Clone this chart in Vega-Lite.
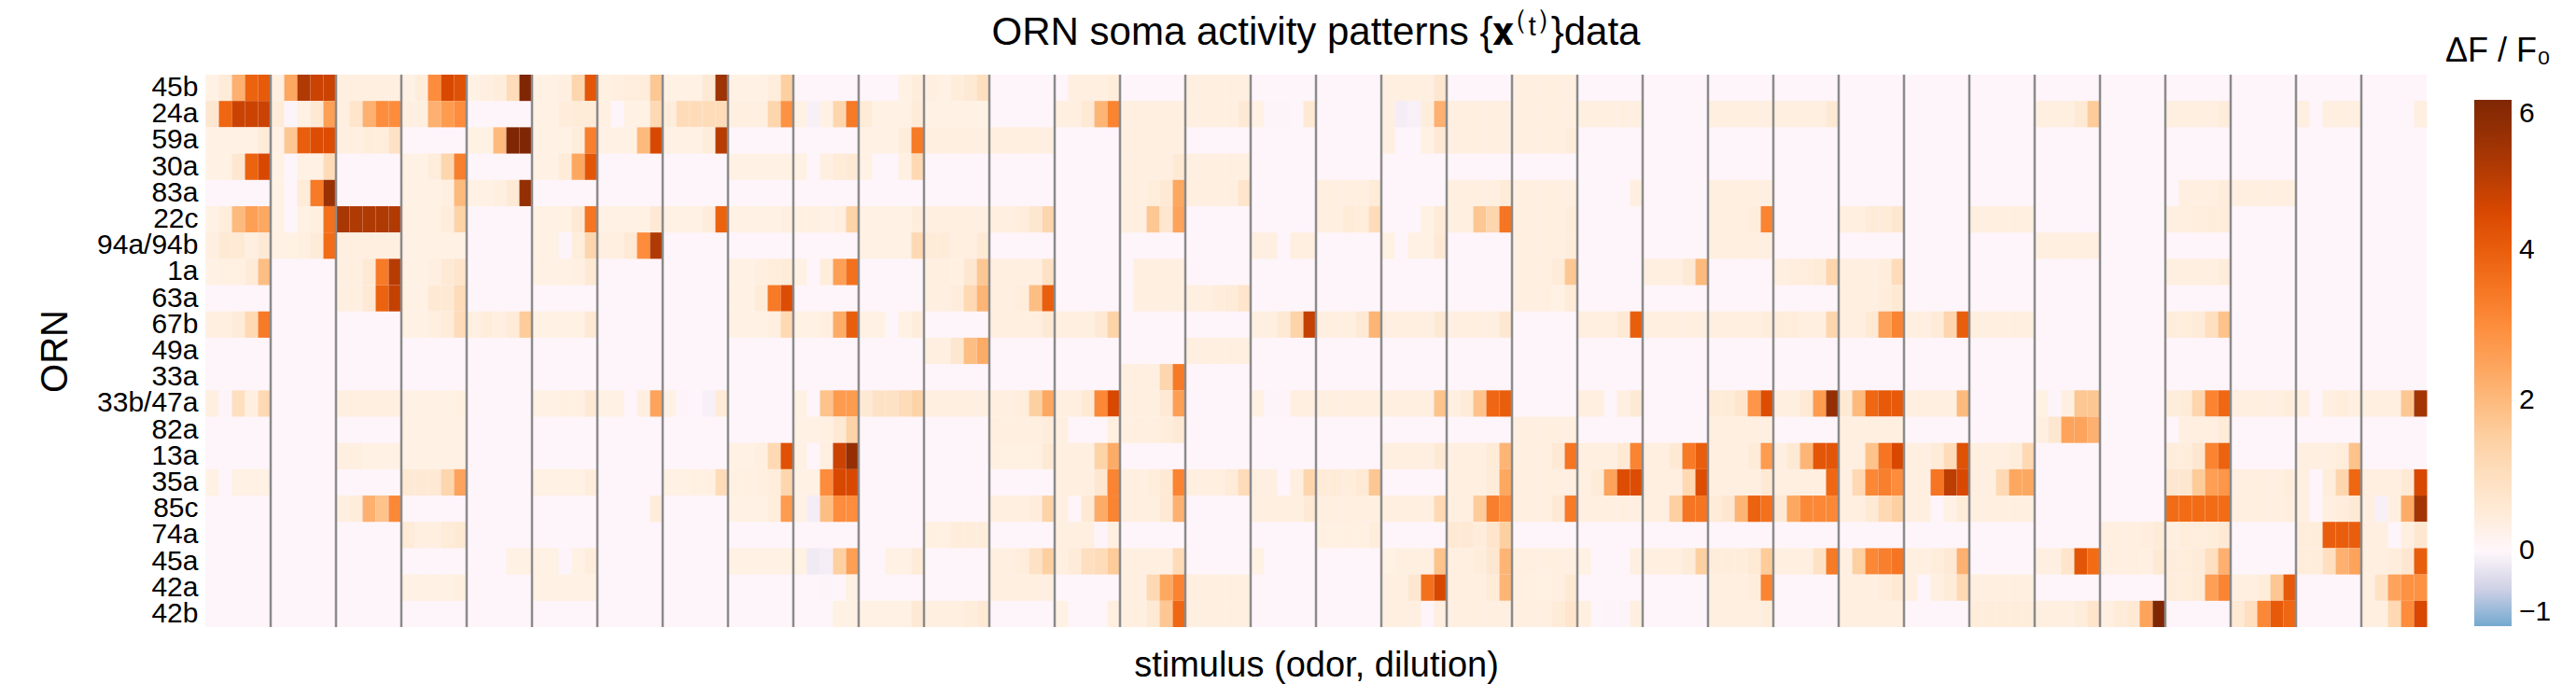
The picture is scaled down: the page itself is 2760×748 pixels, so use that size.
{
  "$schema": "https://vega.github.io/schema/vega-lite/v6.json",
  "description": "ORN soma activity patterns, heatmap of dF/F0 per ORN and stimulus (34 odors x 5 dilutions)",
  "width": 2380,
  "height": 592,
  "autosize": "none",
  "padding": {"left": 220, "top": 80, "right": 160, "bottom": 76},
  "title": {
    "text": "ORN soma activity patterns {𝐱⁽ᵗ⁾}data",
    "frame": "group",
    "anchor": "middle",
    "fontSize": 42,
    "fontWeight": "normal",
    "color": "#000000",
    "offset": -19
  },
  "config": {
    "font": "Liberation Sans",
    "view": {"fill": "#fef5fa", "stroke": null}
  },
  "layer": [
    {
      "data": {
        "values": [
          {"c":0,"r":"45b","v":0.2},{"c":1,"r":"45b","v":0.5},{"c":2,"r":"45b","v":2.2},{"c":3,"r":"45b","v":3.9},{"c":4,"r":"45b","v":4.1},
          {"c":0,"r":"24a","v":0.7},{"c":1,"r":"24a","v":3.8},{"c":2,"r":"24a","v":4.7},{"c":3,"r":"24a","v":4.7},{"c":4,"r":"24a","v":4.7},
          {"c":0,"r":"59a","v":0.2},{"c":1,"r":"59a","v":0.2},{"c":2,"r":"59a","v":0.2},{"c":3,"r":"59a","v":0.2},{"c":4,"r":"59a","v":0.5},
          {"c":0,"r":"30a","v":0.2},{"c":1,"r":"30a","v":0.2},{"c":2,"r":"30a","v":0.7},{"c":3,"r":"30a","v":3.9},{"c":4,"r":"30a","v":4.5},
          {"c":0,"r":"22c","v":0.2},{"c":1,"r":"22c","v":0.4},{"c":2,"r":"22c","v":2.0},{"c":3,"r":"22c","v":2.6},{"c":4,"r":"22c","v":2.4},
          {"c":0,"r":"94a/94b","v":0.3},{"c":1,"r":"94a/94b","v":0.6},{"c":2,"r":"94a/94b","v":0.6},{"c":3,"r":"94a/94b","v":0.3},{"c":4,"r":"94a/94b","v":0.6},
          {"c":0,"r":"1a","v":0.2},{"c":1,"r":"1a","v":0.25},{"c":2,"r":"1a","v":0.25},{"c":3,"r":"1a","v":0.5},{"c":4,"r":"1a","v":1.9},
          {"c":0,"r":"67b","v":0.3},{"c":1,"r":"67b","v":0.3},{"c":2,"r":"67b","v":0.5},{"c":3,"r":"67b","v":1.2},{"c":4,"r":"67b","v":3.4},
          {"c":0,"r":"33b/47a","v":0.3},{"c":1,"r":"33b/47a","v":-0.05},{"c":2,"r":"33b/47a","v":1.0},{"c":3,"r":"33b/47a","v":0.3},{"c":4,"r":"33b/47a","v":1.2},
          {"c":0,"r":"35a","v":0.2},{"c":2,"r":"35a","v":0.2},{"c":3,"r":"35a","v":0.2},{"c":4,"r":"35a","v":0.2},

          {"c":5,"r":"45b","v":0.3},{"c":6,"r":"45b","v":2.4},{"c":7,"r":"45b","v":5.1},{"c":8,"r":"45b","v":4.7},{"c":9,"r":"45b","v":4.7},
          {"c":5,"r":"24a","v":0.5},{"c":6,"r":"24a","v":-0.05},{"c":7,"r":"24a","v":0.2},{"c":8,"r":"24a","v":0.6},{"c":9,"r":"24a","v":2.6},
          {"c":5,"r":"59a","v":0.2},{"c":6,"r":"59a","v":1.7},{"c":7,"r":"59a","v":4.0},{"c":8,"r":"59a","v":4.4},{"c":9,"r":"59a","v":4.4},
          {"c":5,"r":"30a","v":0.2},{"c":7,"r":"30a","v":0.2},{"c":8,"r":"30a","v":0.2},{"c":9,"r":"30a","v":1.1},
          {"c":5,"r":"83a","v":0.2},{"c":7,"r":"83a","v":0.5},{"c":8,"r":"83a","v":3.4},{"c":9,"r":"83a","v":5.5},
          {"c":5,"r":"22c","v":0.2},{"c":7,"r":"22c","v":0.2},{"c":8,"r":"22c","v":0.3},{"c":9,"r":"22c","v":3.6},
          {"c":5,"r":"94a/94b","v":0.2},{"c":6,"r":"94a/94b","v":0.2},{"c":7,"r":"94a/94b","v":0.3},{"c":8,"r":"94a/94b","v":0.5},{"c":9,"r":"94a/94b","v":3.7},

          {"c":10,"r":"45b","v":0.3},{"c":11,"r":"45b","v":0.3},{"c":12,"r":"45b","v":0.3},{"c":13,"r":"45b","v":0.3},{"c":14,"r":"45b","v":0.3},
          {"c":10,"r":"24a","v":0.3},{"c":11,"r":"24a","v":0.8},{"c":12,"r":"24a","v":2.2},{"c":13,"r":"24a","v":3.0},{"c":14,"r":"24a","v":3.0},
          {"c":10,"r":"59a","v":0.3},{"c":11,"r":"59a","v":0.3},{"c":12,"r":"59a","v":0.4},{"c":13,"r":"59a","v":0.4},{"c":14,"r":"59a","v":0.9},
          {"c":10,"r":"22c","v":5.2},{"c":11,"r":"22c","v":5.1},{"c":12,"r":"22c","v":5.1},{"c":13,"r":"22c","v":5.1},{"c":14,"r":"22c","v":5.1},
          {"c":10,"r":"94a/94b","v":0.3},{"c":11,"r":"94a/94b","v":0.3},{"c":12,"r":"94a/94b","v":0.3},{"c":13,"r":"94a/94b","v":0.3},{"c":14,"r":"94a/94b","v":0.3},
          {"c":10,"r":"1a","v":0.3},{"c":11,"r":"1a","v":0.3},{"c":12,"r":"1a","v":0.6},{"c":13,"r":"1a","v":3.4},{"c":14,"r":"1a","v":5.0},
          {"c":10,"r":"63a","v":0.3},{"c":11,"r":"63a","v":0.3},{"c":12,"r":"63a","v":0.6},{"c":13,"r":"63a","v":3.9},{"c":14,"r":"63a","v":4.8},
          {"c":10,"r":"33b/47a","v":0.3},{"c":11,"r":"33b/47a","v":0.3},{"c":12,"r":"33b/47a","v":0.3},{"c":13,"r":"33b/47a","v":0.3},{"c":14,"r":"33b/47a","v":0.3},
          {"c":10,"r":"13a","v":0.3},{"c":11,"r":"13a","v":0.3},{"c":12,"r":"13a","v":0.2},{"c":13,"r":"13a","v":0.2},{"c":14,"r":"13a","v":0.2},
          {"c":10,"r":"85c","v":0.3},{"c":11,"r":"85c","v":0.4},{"c":12,"r":"85c","v":2.2},{"c":13,"r":"85c","v":1.8},{"c":14,"r":"85c","v":3.1},

          {"c":15,"r":"45b","v":0.2},{"c":16,"r":"45b","v":0.4},{"c":17,"r":"45b","v":3.0},{"c":18,"r":"45b","v":4.5},{"c":19,"r":"45b","v":4.3},
          {"c":15,"r":"24a","v":0.3},{"c":16,"r":"24a","v":0.3},{"c":17,"r":"24a","v":2.2},{"c":18,"r":"24a","v":2.7},{"c":19,"r":"24a","v":3.0},
          {"c":15,"r":"30a","v":0.2},{"c":16,"r":"30a","v":0.2},{"c":17,"r":"30a","v":0.4},{"c":18,"r":"30a","v":1.3},{"c":19,"r":"30a","v":3.3},
          {"c":15,"r":"83a","v":0.2},{"c":16,"r":"83a","v":0.2},{"c":17,"r":"83a","v":0.2},{"c":18,"r":"83a","v":0.3},{"c":19,"r":"83a","v":2.0},
          {"c":15,"r":"22c","v":0.2},{"c":16,"r":"22c","v":0.2},{"c":17,"r":"22c","v":0.2},{"c":18,"r":"22c","v":0.4},{"c":19,"r":"22c","v":1.4},
          {"c":15,"r":"94a/94b","v":0.2},{"c":16,"r":"94a/94b","v":0.2},{"c":17,"r":"94a/94b","v":0.2},{"c":18,"r":"94a/94b","v":0.2},{"c":19,"r":"94a/94b","v":0.2},
          {"c":15,"r":"1a","v":0.2},{"c":16,"r":"1a","v":0.2},{"c":17,"r":"1a","v":0.3},{"c":18,"r":"1a","v":0.6},{"c":19,"r":"1a","v":0.8},
          {"c":15,"r":"63a","v":0.2},{"c":16,"r":"63a","v":0.2},{"c":17,"r":"63a","v":0.6},{"c":18,"r":"63a","v":0.6},{"c":19,"r":"63a","v":1.1},
          {"c":15,"r":"67b","v":0.2},{"c":16,"r":"67b","v":0.2},{"c":17,"r":"67b","v":0.3},{"c":18,"r":"67b","v":0.5},{"c":19,"r":"67b","v":1.1},
          {"c":15,"r":"33b/47a","v":0.2},{"c":16,"r":"33b/47a","v":0.2},{"c":17,"r":"33b/47a","v":0.2},{"c":18,"r":"33b/47a","v":0.2},{"c":19,"r":"33b/47a","v":0.25},
          {"c":15,"r":"82a","v":0.2},{"c":16,"r":"82a","v":0.2},{"c":17,"r":"82a","v":0.2},{"c":18,"r":"82a","v":0.2},{"c":19,"r":"82a","v":0.2},
          {"c":15,"r":"13a","v":0.2},{"c":16,"r":"13a","v":0.2},{"c":17,"r":"13a","v":0.2},{"c":18,"r":"13a","v":0.2},{"c":19,"r":"13a","v":0.2},
          {"c":15,"r":"35a","v":0.6},{"c":16,"r":"35a","v":0.6},{"c":17,"r":"35a","v":0.6},{"c":18,"r":"35a","v":1.3},{"c":19,"r":"35a","v":2.5},
          {"c":15,"r":"74a","v":0.5},{"c":16,"r":"74a","v":0.3},{"c":17,"r":"74a","v":0.3},{"c":18,"r":"74a","v":0.5},{"c":19,"r":"74a","v":0.6},
          {"c":15,"r":"42a","v":0.2},{"c":16,"r":"42a","v":0.2},{"c":17,"r":"42a","v":0.2},{"c":18,"r":"42a","v":0.2},{"c":19,"r":"42a","v":0.3},

          {"c":20,"r":"45b","v":0.2},{"c":21,"r":"45b","v":0.3},{"c":22,"r":"45b","v":0.4},{"c":23,"r":"45b","v":1.1},{"c":24,"r":"45b","v":6.0},
          {"c":20,"r":"59a","v":0.2},{"c":21,"r":"59a","v":0.2},{"c":22,"r":"59a","v":2.0},{"c":23,"r":"59a","v":6.0},{"c":24,"r":"59a","v":6.0},
          {"c":20,"r":"83a","v":0.2},{"c":21,"r":"83a","v":0.2},{"c":22,"r":"83a","v":0.3},{"c":23,"r":"83a","v":0.6},{"c":24,"r":"83a","v":5.6},
          {"c":20,"r":"67b","v":0.25},{"c":21,"r":"67b","v":0.4},{"c":22,"r":"67b","v":0.3},{"c":23,"r":"67b","v":0.5},{"c":24,"r":"67b","v":1.6},
          {"c":23,"r":"45a","v":0.2},{"c":24,"r":"45a","v":0.2},

          {"c":25,"r":"45b","v":0.2},{"c":26,"r":"45b","v":0.2},{"c":27,"r":"45b","v":0.3},{"c":28,"r":"45b","v":1.3},{"c":29,"r":"45b","v":4.2},
          {"c":25,"r":"24a","v":0.2},{"c":26,"r":"24a","v":0.2},{"c":27,"r":"24a","v":0.4},{"c":28,"r":"24a","v":0.5},{"c":29,"r":"24a","v":0.5},
          {"c":25,"r":"59a","v":0.2},{"c":26,"r":"59a","v":0.2},{"c":27,"r":"59a","v":0.2},{"c":28,"r":"59a","v":0.4},{"c":29,"r":"59a","v":3.3},
          {"c":25,"r":"30a","v":0.2},{"c":26,"r":"30a","v":0.2},{"c":27,"r":"30a","v":0.5},{"c":28,"r":"30a","v":2.4},{"c":29,"r":"30a","v":4.2},
          {"c":25,"r":"22c","v":0.2},{"c":26,"r":"22c","v":0.2},{"c":27,"r":"22c","v":0.2},{"c":28,"r":"22c","v":0.6},{"c":29,"r":"22c","v":3.5},
          {"c":25,"r":"94a/94b","v":0.2},{"c":26,"r":"94a/94b","v":0.2},{"c":27,"r":"94a/94b","v":-0.05},{"c":28,"r":"94a/94b","v":0.4},{"c":29,"r":"94a/94b","v":1.3},
          {"c":25,"r":"1a","v":0.2},{"c":26,"r":"1a","v":0.2},{"c":27,"r":"1a","v":0.2},{"c":28,"r":"1a","v":0.25},{"c":29,"r":"1a","v":0.6},
          {"c":25,"r":"67b","v":0.2},{"c":26,"r":"67b","v":0.2},{"c":27,"r":"67b","v":0.2},{"c":28,"r":"67b","v":0.2},{"c":29,"r":"67b","v":0.6},
          {"c":25,"r":"33b/47a","v":0.2},{"c":26,"r":"33b/47a","v":0.2},{"c":27,"r":"33b/47a","v":0.25},{"c":28,"r":"33b/47a","v":0.25},{"c":29,"r":"33b/47a","v":0.6},
          {"c":25,"r":"35a","v":0.2},{"c":26,"r":"35a","v":0.2},{"c":27,"r":"35a","v":0.2},{"c":28,"r":"35a","v":0.2},{"c":29,"r":"35a","v":0.4},
          {"c":25,"r":"45a","v":0.2},{"c":26,"r":"45a","v":0.2},{"c":27,"r":"45a","v":-0.05},{"c":28,"r":"45a","v":0.2},{"c":29,"r":"45a","v":0.4},
          {"c":25,"r":"42a","v":0.2},{"c":26,"r":"42a","v":0.2},{"c":27,"r":"42a","v":0.2},{"c":28,"r":"42a","v":0.2},{"c":29,"r":"42a","v":0.2},

          {"c":30,"r":"45b","v":0.25},{"c":31,"r":"45b","v":0.3},{"c":32,"r":"45b","v":0.4},{"c":33,"r":"45b","v":0.4},{"c":34,"r":"45b","v":1.7},
          {"c":30,"r":"24a","v":0.25},{"c":32,"r":"24a","v":0.2},{"c":33,"r":"24a","v":0.2},{"c":34,"r":"24a","v":1.2},
          {"c":30,"r":"59a","v":0.2},{"c":31,"r":"59a","v":0.15},{"c":32,"r":"59a","v":0.2},{"c":33,"r":"59a","v":2.0},{"c":34,"r":"59a","v":4.5},
          {"c":30,"r":"22c","v":0.2},{"c":31,"r":"22c","v":0.2},{"c":32,"r":"22c","v":0.2},{"c":33,"r":"22c","v":0.2},{"c":34,"r":"22c","v":0.6},
          {"c":30,"r":"94a/94b","v":0.3},{"c":31,"r":"94a/94b","v":0.3},{"c":32,"r":"94a/94b","v":0.6},{"c":33,"r":"94a/94b","v":3.0},{"c":34,"r":"94a/94b","v":5.1},
          {"c":30,"r":"33b/47a","v":0.2},{"c":31,"r":"33b/47a","v":0.2},{"c":33,"r":"33b/47a","v":0.3},{"c":34,"r":"33b/47a","v":2.5},
          {"c":34,"r":"85c","v":0.4},

          {"c":35,"r":"45b","v":0.2},{"c":36,"r":"45b","v":0.2},{"c":37,"r":"45b","v":0.2},{"c":38,"r":"45b","v":0.6},{"c":39,"r":"45b","v":5.4},
          {"c":35,"r":"24a","v":0.4},{"c":36,"r":"24a","v":1.1},{"c":37,"r":"24a","v":1.1},{"c":38,"r":"24a","v":1.1},{"c":39,"r":"24a","v":1.1},
          {"c":35,"r":"59a","v":0.2},{"c":36,"r":"59a","v":0.2},{"c":37,"r":"59a","v":0.2},{"c":38,"r":"59a","v":0.4},{"c":39,"r":"59a","v":5.0},
          {"c":35,"r":"22c","v":0.2},{"c":36,"r":"22c","v":0.2},{"c":37,"r":"22c","v":0.2},{"c":38,"r":"22c","v":0.4},{"c":39,"r":"22c","v":3.9},
          {"c":35,"r":"33b/47a","v":0.2},{"c":36,"r":"33b/47a","v":-0.05},{"c":38,"r":"33b/47a","v":-0.1},{"c":39,"r":"33b/47a","v":0.5},
          {"c":35,"r":"35a","v":0.2},{"c":36,"r":"35a","v":0.2},{"c":37,"r":"35a","v":0.25},{"c":38,"r":"35a","v":0.25},{"c":39,"r":"35a","v":1.1},

          {"c":40,"r":"45b","v":0.2},{"c":41,"r":"45b","v":0.2},{"c":42,"r":"45b","v":0.2},{"c":43,"r":"45b","v":0.4},{"c":44,"r":"45b","v":1.5},
          {"c":40,"r":"24a","v":0.3},{"c":41,"r":"24a","v":0.3},{"c":42,"r":"24a","v":0.3},{"c":43,"r":"24a","v":1.3},{"c":44,"r":"24a","v":2.9},
          {"c":40,"r":"30a","v":0.2},{"c":41,"r":"30a","v":0.2},{"c":42,"r":"30a","v":0.2},{"c":43,"r":"30a","v":0.2},{"c":44,"r":"30a","v":0.2},
          {"c":40,"r":"22c","v":0.2},{"c":41,"r":"22c","v":0.2},{"c":42,"r":"22c","v":0.2},{"c":43,"r":"22c","v":0.2},{"c":44,"r":"22c","v":0.3},
          {"c":40,"r":"1a","v":0.2},{"c":41,"r":"1a","v":0.2},{"c":42,"r":"1a","v":0.3},{"c":43,"r":"1a","v":0.4},{"c":44,"r":"1a","v":0.5},
          {"c":40,"r":"63a","v":0.2},{"c":41,"r":"63a","v":0.2},{"c":42,"r":"63a","v":0.5},{"c":43,"r":"63a","v":3.4},{"c":44,"r":"63a","v":4.4},
          {"c":40,"r":"67b","v":0.2},{"c":41,"r":"67b","v":0.2},{"c":42,"r":"67b","v":0.2},{"c":43,"r":"67b","v":0.3},{"c":44,"r":"67b","v":1.2},
          {"c":40,"r":"13a","v":0.2},{"c":41,"r":"13a","v":0.2},{"c":42,"r":"13a","v":0.3},{"c":43,"r":"13a","v":1.2},{"c":44,"r":"13a","v":4.3},
          {"c":40,"r":"35a","v":0.25},{"c":41,"r":"35a","v":0.25},{"c":42,"r":"35a","v":0.3},{"c":43,"r":"35a","v":0.4},{"c":44,"r":"35a","v":1.3},
          {"c":40,"r":"85c","v":0.2},{"c":41,"r":"85c","v":0.2},{"c":42,"r":"85c","v":0.2},{"c":43,"r":"85c","v":0.4},{"c":44,"r":"85c","v":2.7},
          {"c":40,"r":"45a","v":0.2},{"c":41,"r":"45a","v":0.2},{"c":42,"r":"45a","v":0.2},{"c":43,"r":"45a","v":0.2},{"c":44,"r":"45a","v":0.2},

          {"c":45,"r":"24a","v":0.2},{"c":46,"r":"24a","v":-0.1},{"c":47,"r":"24a","v":0.2},{"c":48,"r":"24a","v":1.3},{"c":49,"r":"24a","v":3.4},
          {"c":45,"r":"30a","v":0.2},{"c":47,"r":"30a","v":0.3},{"c":48,"r":"30a","v":0.5},{"c":49,"r":"30a","v":0.6},
          {"c":45,"r":"22c","v":0.25},{"c":46,"r":"22c","v":0.25},{"c":47,"r":"22c","v":0.2},{"c":48,"r":"22c","v":0.3},{"c":49,"r":"22c","v":1.4},
          {"c":45,"r":"1a","v":0.2},{"c":47,"r":"1a","v":0.4},{"c":48,"r":"1a","v":2.6},{"c":49,"r":"1a","v":3.6},
          {"c":45,"r":"67b","v":0.2},{"c":46,"r":"67b","v":0.2},{"c":47,"r":"67b","v":0.3},{"c":48,"r":"67b","v":2.3},{"c":49,"r":"67b","v":4.0},
          {"c":45,"r":"33b/47a","v":0.2},{"c":47,"r":"33b/47a","v":1.8},{"c":48,"r":"33b/47a","v":2.7},{"c":49,"r":"33b/47a","v":2.7},
          {"c":45,"r":"82a","v":0.2},{"c":46,"r":"82a","v":0.2},{"c":47,"r":"82a","v":0.25},{"c":48,"r":"82a","v":0.6},{"c":49,"r":"82a","v":1.4},
          {"c":45,"r":"13a","v":0.2},{"c":47,"r":"13a","v":0.3},{"c":48,"r":"13a","v":4.7},{"c":49,"r":"13a","v":5.6},
          {"c":45,"r":"35a","v":0.2},{"c":46,"r":"35a","v":0.2},{"c":47,"r":"35a","v":3.0},{"c":48,"r":"35a","v":4.5},{"c":49,"r":"35a","v":4.5},
          {"c":45,"r":"85c","v":0.2},{"c":46,"r":"85c","v":-0.15},{"c":47,"r":"85c","v":1.9},{"c":48,"r":"85c","v":3.0},{"c":49,"r":"85c","v":3.0},
          {"c":45,"r":"45a","v":0.2},{"c":46,"r":"45a","v":-0.2},{"c":47,"r":"45a","v":-0.15},{"c":48,"r":"45a","v":1.5},{"c":49,"r":"45a","v":2.6},
          {"c":47,"r":"42a","v":-0.05},{"c":49,"r":"42a","v":0.2},
          {"c":46,"r":"42b","v":-0.03},{"c":47,"r":"42b","v":-0.03},{"c":48,"r":"42b","v":0.2},{"c":49,"r":"42b","v":0.2},

          {"c":53,"r":"45b","v":0.2},{"c":54,"r":"45b","v":0.4},
          {"c":50,"r":"24a","v":0.5},{"c":51,"r":"24a","v":0.2},{"c":52,"r":"24a","v":0.2},{"c":53,"r":"24a","v":0.2},{"c":54,"r":"24a","v":0.5},
          {"c":50,"r":"59a","v":0.2},{"c":51,"r":"59a","v":0.2},{"c":52,"r":"59a","v":0.2},{"c":53,"r":"59a","v":0.4},{"c":54,"r":"59a","v":3.4},
          {"c":50,"r":"30a","v":0.2},{"c":53,"r":"30a","v":0.25},{"c":54,"r":"30a","v":1.2},
          {"c":50,"r":"22c","v":0.2},{"c":51,"r":"22c","v":0.2},{"c":52,"r":"22c","v":0.2},{"c":53,"r":"22c","v":0.2},{"c":54,"r":"22c","v":0.4},
          {"c":50,"r":"94a/94b","v":0.2},{"c":51,"r":"94a/94b","v":0.2},{"c":52,"r":"94a/94b","v":0.2},{"c":53,"r":"94a/94b","v":0.2},{"c":54,"r":"94a/94b","v":1.2},
          {"c":50,"r":"67b","v":0.2},{"c":51,"r":"67b","v":0.2},{"c":53,"r":"67b","v":0.2},{"c":54,"r":"67b","v":0.4},
          {"c":50,"r":"33b/47a","v":0.6},{"c":51,"r":"33b/47a","v":0.9},{"c":52,"r":"33b/47a","v":0.9},{"c":53,"r":"33b/47a","v":1.1},{"c":54,"r":"33b/47a","v":1.4},
          {"c":52,"r":"45a","v":0.2},{"c":53,"r":"45a","v":0.2},{"c":54,"r":"45a","v":0.5},
          {"c":50,"r":"42b","v":0.2},{"c":51,"r":"42b","v":0.2},{"c":52,"r":"42b","v":0.2},{"c":53,"r":"42b","v":0.2},{"c":54,"r":"42b","v":0.6},

          {"c":55,"r":"45b","v":0.3},{"c":56,"r":"45b","v":0.2},{"c":57,"r":"45b","v":0.4},{"c":58,"r":"45b","v":0.6},{"c":59,"r":"45b","v":1.0},
          {"c":55,"r":"24a","v":0.2},{"c":56,"r":"24a","v":0.2},{"c":57,"r":"24a","v":0.2},{"c":58,"r":"24a","v":0.2},{"c":59,"r":"24a","v":0.2},
          {"c":55,"r":"59a","v":0.3},{"c":56,"r":"59a","v":0.3},{"c":57,"r":"59a","v":0.3},{"c":58,"r":"59a","v":0.3},{"c":59,"r":"59a","v":0.3},
          {"c":55,"r":"22c","v":0.3},{"c":56,"r":"22c","v":0.3},{"c":57,"r":"22c","v":0.3},{"c":58,"r":"22c","v":0.3},{"c":59,"r":"22c","v":0.3},
          {"c":55,"r":"94a/94b","v":0.5},{"c":56,"r":"94a/94b","v":0.5},{"c":57,"r":"94a/94b","v":0.3},{"c":58,"r":"94a/94b","v":0.3},{"c":59,"r":"94a/94b","v":0.6},
          {"c":55,"r":"1a","v":0.3},{"c":56,"r":"1a","v":0.3},{"c":57,"r":"1a","v":0.25},{"c":58,"r":"1a","v":0.7},{"c":59,"r":"1a","v":1.7},
          {"c":55,"r":"63a","v":0.3},{"c":56,"r":"63a","v":0.3},{"c":57,"r":"63a","v":0.4},{"c":58,"r":"63a","v":1.2},{"c":59,"r":"63a","v":2.1},
          {"c":55,"r":"49a","v":0.3},{"c":56,"r":"49a","v":0.3},{"c":57,"r":"49a","v":0.7},{"c":58,"r":"49a","v":1.9},{"c":59,"r":"49a","v":2.3},
          {"c":55,"r":"33b/47a","v":0.3},{"c":56,"r":"33b/47a","v":0.3},{"c":57,"r":"33b/47a","v":0.3},{"c":58,"r":"33b/47a","v":0.3},{"c":59,"r":"33b/47a","v":0.3},
          {"c":55,"r":"74a","v":0.25},{"c":56,"r":"74a","v":0.25},{"c":57,"r":"74a","v":0.4},{"c":58,"r":"74a","v":0.4},{"c":59,"r":"74a","v":0.4},
          {"c":55,"r":"42b","v":0.3},{"c":56,"r":"42b","v":0.3},{"c":57,"r":"42b","v":0.3},{"c":58,"r":"42b","v":0.4},{"c":59,"r":"42b","v":0.6},

          {"c":60,"r":"59a","v":0.3},{"c":61,"r":"59a","v":0.3},{"c":62,"r":"59a","v":0.3},{"c":63,"r":"59a","v":0.3},{"c":64,"r":"59a","v":0.3},
          {"c":60,"r":"22c","v":0.3},{"c":61,"r":"22c","v":0.3},{"c":62,"r":"22c","v":0.4},{"c":63,"r":"22c","v":0.7},{"c":64,"r":"22c","v":1.3},
          {"c":60,"r":"1a","v":0.3},{"c":61,"r":"1a","v":0.3},{"c":62,"r":"1a","v":0.3},{"c":63,"r":"1a","v":0.3},{"c":64,"r":"1a","v":0.9},
          {"c":60,"r":"63a","v":0.3},{"c":61,"r":"63a","v":0.3},{"c":62,"r":"63a","v":0.4},{"c":63,"r":"63a","v":1.9},{"c":64,"r":"63a","v":4.0},
          {"c":60,"r":"67b","v":0.3},{"c":61,"r":"67b","v":0.3},{"c":62,"r":"67b","v":0.3},{"c":63,"r":"67b","v":0.3},{"c":64,"r":"67b","v":0.6},
          {"c":60,"r":"33b/47a","v":0.3},{"c":61,"r":"33b/47a","v":0.3},{"c":62,"r":"33b/47a","v":0.4},{"c":63,"r":"33b/47a","v":1.5},{"c":64,"r":"33b/47a","v":2.4},
          {"c":60,"r":"82a","v":0.3},{"c":61,"r":"82a","v":0.3},{"c":62,"r":"82a","v":0.3},{"c":63,"r":"82a","v":0.3},{"c":64,"r":"82a","v":0.4},
          {"c":60,"r":"13a","v":0.25},{"c":61,"r":"13a","v":0.25},{"c":62,"r":"13a","v":0.25},{"c":63,"r":"13a","v":0.25},{"c":64,"r":"13a","v":0.6},
          {"c":60,"r":"85c","v":0.3},{"c":61,"r":"85c","v":0.3},{"c":62,"r":"85c","v":0.3},{"c":63,"r":"85c","v":0.4},{"c":64,"r":"85c","v":1.4},
          {"c":60,"r":"45a","v":0.3},{"c":61,"r":"45a","v":0.3},{"c":62,"r":"45a","v":0.4},{"c":63,"r":"45a","v":0.9},{"c":64,"r":"45a","v":1.5},
          {"c":60,"r":"42a","v":0.3},{"c":61,"r":"42a","v":0.3},{"c":62,"r":"42a","v":0.3},{"c":63,"r":"42a","v":0.3},{"c":64,"r":"42a","v":0.3},

          {"c":66,"r":"45b","v":0.3},{"c":67,"r":"45b","v":0.3},{"c":68,"r":"45b","v":0.3},{"c":69,"r":"45b","v":0.4},
          {"c":65,"r":"24a","v":0.3},{"c":66,"r":"24a","v":0.3},{"c":67,"r":"24a","v":0.6},{"c":68,"r":"24a","v":2.1},{"c":69,"r":"24a","v":3.2},
          {"c":65,"r":"67b","v":0.3},{"c":66,"r":"67b","v":0.3},{"c":67,"r":"67b","v":0.3},{"c":68,"r":"67b","v":0.6},{"c":69,"r":"67b","v":1.4},
          {"c":65,"r":"33b/47a","v":0.3},{"c":66,"r":"33b/47a","v":0.3},{"c":67,"r":"33b/47a","v":0.6},{"c":68,"r":"33b/47a","v":3.1},{"c":69,"r":"33b/47a","v":4.5},
          {"c":65,"r":"82a","v":0.3},{"c":69,"r":"82a","v":0.3},
          {"c":65,"r":"13a","v":0.3},{"c":66,"r":"13a","v":0.3},{"c":67,"r":"13a","v":0.3},{"c":68,"r":"13a","v":1.4},{"c":69,"r":"13a","v":2.3},
          {"c":65,"r":"35a","v":0.3},{"c":66,"r":"35a","v":0.3},{"c":67,"r":"35a","v":0.3},{"c":68,"r":"35a","v":0.7},{"c":69,"r":"35a","v":3.2},
          {"c":65,"r":"85c","v":0.3},{"c":67,"r":"85c","v":0.6},{"c":68,"r":"85c","v":2.3},{"c":69,"r":"85c","v":3.2},
          {"c":65,"r":"74a","v":0.3},{"c":66,"r":"74a","v":0.3},{"c":67,"r":"74a","v":0.3},{"c":68,"r":"74a","v":-0.05},{"c":69,"r":"74a","v":0.3},
          {"c":65,"r":"45a","v":0.3},{"c":66,"r":"45a","v":0.5},{"c":67,"r":"45a","v":1.0},{"c":68,"r":"45a","v":1.1},{"c":69,"r":"45a","v":1.6},
          {"c":65,"r":"42b","v":0.2},{"c":69,"r":"42b","v":0.3},

          {"c":70,"r":"24a","v":0.3},{"c":71,"r":"24a","v":0.3},{"c":72,"r":"24a","v":0.3},{"c":73,"r":"24a","v":0.3},{"c":74,"r":"24a","v":0.3},
          {"c":70,"r":"59a","v":0.3},{"c":71,"r":"59a","v":0.3},{"c":72,"r":"59a","v":0.3},{"c":73,"r":"59a","v":0.3},{"c":74,"r":"59a","v":0.3},
          {"c":70,"r":"30a","v":0.3},{"c":71,"r":"30a","v":0.3},{"c":72,"r":"30a","v":0.3},{"c":73,"r":"30a","v":0.3},{"c":74,"r":"30a","v":0.6},
          {"c":70,"r":"83a","v":0.3},{"c":71,"r":"83a","v":0.3},{"c":72,"r":"83a","v":0.4},{"c":73,"r":"83a","v":0.6},{"c":74,"r":"83a","v":2.4},
          {"c":70,"r":"22c","v":0.3},{"c":71,"r":"22c","v":0.3},{"c":72,"r":"22c","v":1.7},{"c":73,"r":"22c","v":0.7},{"c":74,"r":"22c","v":2.5},
          {"c":71,"r":"1a","v":0.3},{"c":72,"r":"1a","v":0.3},{"c":73,"r":"1a","v":0.3},{"c":74,"r":"1a","v":0.3},
          {"c":71,"r":"63a","v":0.3},{"c":72,"r":"63a","v":0.3},{"c":73,"r":"63a","v":0.3},{"c":74,"r":"63a","v":0.3},
          {"c":70,"r":"33a","v":0.3},{"c":71,"r":"33a","v":0.3},{"c":72,"r":"33a","v":0.3},{"c":73,"r":"33a","v":1.3},{"c":74,"r":"33a","v":3.4},
          {"c":70,"r":"33b/47a","v":0.3},{"c":71,"r":"33b/47a","v":0.3},{"c":72,"r":"33b/47a","v":0.3},{"c":73,"r":"33b/47a","v":0.6},{"c":74,"r":"33b/47a","v":2.6},
          {"c":70,"r":"82a","v":0.3},{"c":71,"r":"82a","v":0.3},{"c":72,"r":"82a","v":0.3},{"c":73,"r":"82a","v":0.4},{"c":74,"r":"82a","v":0.6},
          {"c":70,"r":"35a","v":0.3},{"c":71,"r":"35a","v":0.3},{"c":72,"r":"35a","v":0.4},{"c":73,"r":"35a","v":0.6},{"c":74,"r":"35a","v":3.2},
          {"c":70,"r":"85c","v":0.3},{"c":71,"r":"85c","v":0.3},{"c":72,"r":"85c","v":0.3},{"c":73,"r":"85c","v":0.6},{"c":74,"r":"85c","v":2.2},
          {"c":70,"r":"45a","v":0.3},{"c":71,"r":"45a","v":0.3},{"c":72,"r":"45a","v":0.3},{"c":73,"r":"45a","v":0.3},{"c":74,"r":"45a","v":1.1},
          {"c":70,"r":"42a","v":0.3},{"c":71,"r":"42a","v":0.3},{"c":72,"r":"42a","v":1.2},{"c":73,"r":"42a","v":2.4},{"c":74,"r":"42a","v":3.2},
          {"c":70,"r":"42b","v":0.3},{"c":71,"r":"42b","v":0.3},{"c":72,"r":"42b","v":0.6},{"c":73,"r":"42b","v":1.7},{"c":74,"r":"42b","v":3.8},

          {"c":75,"r":"45b","v":0.3},{"c":76,"r":"45b","v":0.3},{"c":77,"r":"45b","v":0.3},{"c":78,"r":"45b","v":0.3},{"c":79,"r":"45b","v":0.3},
          {"c":75,"r":"24a","v":0.3},{"c":76,"r":"24a","v":0.3},{"c":77,"r":"24a","v":0.3},{"c":78,"r":"24a","v":0.3},{"c":79,"r":"24a","v":0.6},
          {"c":75,"r":"30a","v":0.3},{"c":76,"r":"30a","v":0.3},{"c":77,"r":"30a","v":0.3},{"c":78,"r":"30a","v":0.3},{"c":79,"r":"30a","v":0.3},
          {"c":75,"r":"83a","v":0.3},{"c":76,"r":"83a","v":0.3},{"c":77,"r":"83a","v":0.3},{"c":78,"r":"83a","v":0.3},{"c":79,"r":"83a","v":0.8},
          {"c":75,"r":"63a","v":0.3},{"c":76,"r":"63a","v":0.3},{"c":77,"r":"63a","v":0.4},{"c":78,"r":"63a","v":0.5},{"c":79,"r":"63a","v":0.8},
          {"c":75,"r":"49a","v":0.3},{"c":76,"r":"49a","v":0.3},{"c":77,"r":"49a","v":0.3},{"c":78,"r":"49a","v":0.3},{"c":79,"r":"49a","v":0.3},
          {"c":75,"r":"35a","v":0.3},{"c":76,"r":"35a","v":0.3},{"c":77,"r":"35a","v":0.3},{"c":78,"r":"35a","v":0.5},{"c":79,"r":"35a","v":1.1},
          {"c":75,"r":"42a","v":0.3},{"c":76,"r":"42a","v":0.3},{"c":77,"r":"42a","v":0.3},{"c":78,"r":"42a","v":0.3},{"c":79,"r":"42a","v":0.3},
          {"c":75,"r":"42b","v":0.3},{"c":76,"r":"42b","v":0.3},{"c":77,"r":"42b","v":0.3},{"c":78,"r":"42b","v":0.3},{"c":79,"r":"42b","v":0.3},

          {"c":80,"r":"24a","v":0.2},{"c":81,"r":"24a","v":-0.05},{"c":82,"r":"24a","v":-0.05},{"c":84,"r":"24a","v":0.6},
          {"c":80,"r":"94a/94b","v":0.3},{"c":81,"r":"94a/94b","v":0.3},{"c":83,"r":"94a/94b","v":0.3},{"c":84,"r":"94a/94b","v":0.3},
          {"c":80,"r":"67b","v":0.3},{"c":81,"r":"67b","v":0.3},{"c":82,"r":"67b","v":0.6},{"c":83,"r":"67b","v":1.4},{"c":84,"r":"67b","v":4.8},
          {"c":80,"r":"33b/47a","v":0.25},{"c":81,"r":"33b/47a","v":-0.05},{"c":82,"r":"33b/47a","v":-0.05},{"c":83,"r":"33b/47a","v":0.3},{"c":84,"r":"33b/47a","v":0.3},
          {"c":80,"r":"35a","v":0.3},{"c":81,"r":"35a","v":0.3},{"c":83,"r":"35a","v":0.3},{"c":84,"r":"35a","v":1.3},
          {"c":80,"r":"85c","v":0.3},{"c":81,"r":"85c","v":0.3},{"c":82,"r":"85c","v":0.3},{"c":83,"r":"85c","v":0.3},{"c":84,"r":"85c","v":0.6},
          {"c":80,"r":"45a","v":0.2},{"c":81,"r":"45a","v":-0.03},{"c":82,"r":"45a","v":-0.03},{"c":83,"r":"45a","v":-0.03},

          {"c":85,"r":"83a","v":0.3},{"c":86,"r":"83a","v":0.3},{"c":87,"r":"83a","v":0.3},{"c":88,"r":"83a","v":0.3},{"c":89,"r":"83a","v":0.5},
          {"c":85,"r":"22c","v":0.3},{"c":86,"r":"22c","v":0.3},{"c":87,"r":"22c","v":0.5},{"c":88,"r":"22c","v":0.4},{"c":89,"r":"22c","v":1.1},
          {"c":85,"r":"67b","v":0.3},{"c":86,"r":"67b","v":0.3},{"c":87,"r":"67b","v":0.3},{"c":88,"r":"67b","v":0.6},{"c":89,"r":"67b","v":2.1},
          {"c":85,"r":"33b/47a","v":0.3},{"c":86,"r":"33b/47a","v":0.3},{"c":87,"r":"33b/47a","v":0.3},{"c":88,"r":"33b/47a","v":0.3},{"c":89,"r":"33b/47a","v":0.3},
          {"c":85,"r":"35a","v":0.5},{"c":86,"r":"35a","v":0.5},{"c":87,"r":"35a","v":0.4},{"c":88,"r":"35a","v":0.6},{"c":89,"r":"35a","v":1.7},
          {"c":85,"r":"85c","v":0.3},{"c":86,"r":"85c","v":0.3},{"c":87,"r":"85c","v":0.3},{"c":88,"r":"85c","v":0.3},{"c":89,"r":"85c","v":0.3},
          {"c":85,"r":"74a","v":0.25},{"c":86,"r":"74a","v":0.25},{"c":87,"r":"74a","v":0.25},{"c":88,"r":"74a","v":0.25},{"c":89,"r":"74a","v":0.4},

          {"c":90,"r":"45b","v":0.3},{"c":91,"r":"45b","v":0.3},{"c":92,"r":"45b","v":0.3},{"c":93,"r":"45b","v":0.3},{"c":94,"r":"45b","v":0.7},
          {"c":90,"r":"24a","v":0.3},{"c":91,"r":"24a","v":-0.15},{"c":92,"r":"24a","v":-0.1},{"c":93,"r":"24a","v":0.4},{"c":94,"r":"24a","v":2.2},
          {"c":90,"r":"59a","v":0.3},{"c":93,"r":"59a","v":0.2},{"c":94,"r":"59a","v":0.6},
          {"c":93,"r":"22c","v":0.2},{"c":94,"r":"22c","v":0.5},
          {"c":90,"r":"94a/94b","v":0.2},{"c":92,"r":"94a/94b","v":0.2},{"c":93,"r":"94a/94b","v":0.2},{"c":94,"r":"94a/94b","v":0.6},
          {"c":90,"r":"67b","v":0.3},{"c":91,"r":"67b","v":0.3},{"c":92,"r":"67b","v":0.3},{"c":93,"r":"67b","v":0.3},{"c":94,"r":"67b","v":0.6},
          {"c":90,"r":"33b/47a","v":0.3},{"c":91,"r":"33b/47a","v":0.3},{"c":92,"r":"33b/47a","v":0.3},{"c":93,"r":"33b/47a","v":0.3},{"c":94,"r":"33b/47a","v":1.8},
          {"c":90,"r":"13a","v":0.3},{"c":91,"r":"13a","v":0.3},{"c":92,"r":"13a","v":0.3},{"c":93,"r":"13a","v":0.3},{"c":94,"r":"13a","v":0.6},
          {"c":90,"r":"85c","v":0.3},{"c":91,"r":"85c","v":0.3},{"c":92,"r":"85c","v":0.3},{"c":93,"r":"85c","v":0.3},{"c":94,"r":"85c","v":1.2},
          {"c":90,"r":"45a","v":0.2},{"c":91,"r":"45a","v":0.3},{"c":92,"r":"45a","v":0.3},{"c":93,"r":"45a","v":0.3},{"c":94,"r":"45a","v":1.8},
          {"c":90,"r":"42a","v":0.3},{"c":91,"r":"42a","v":0.3},{"c":92,"r":"42a","v":0.7},{"c":93,"r":"42a","v":3.6},{"c":94,"r":"42a","v":4.5},
          {"c":90,"r":"42b","v":0.3},{"c":91,"r":"42b","v":0.3},{"c":92,"r":"42b","v":0.3},{"c":94,"r":"42b","v":0.3},

          {"c":95,"r":"24a","v":0.3},{"c":96,"r":"24a","v":0.3},{"c":97,"r":"24a","v":0.3},{"c":98,"r":"24a","v":0.3},{"c":99,"r":"24a","v":0.3},
          {"c":95,"r":"59a","v":0.3},{"c":96,"r":"59a","v":0.3},{"c":97,"r":"59a","v":0.3},{"c":98,"r":"59a","v":0.3},{"c":99,"r":"59a","v":0.3},
          {"c":95,"r":"83a","v":0.3},{"c":96,"r":"83a","v":0.3},{"c":97,"r":"83a","v":0.3},{"c":98,"r":"83a","v":0.3},{"c":99,"r":"83a","v":0.5},
          {"c":95,"r":"22c","v":0.3},{"c":96,"r":"22c","v":0.3},{"c":97,"r":"22c","v":1.7},{"c":98,"r":"22c","v":1.3},{"c":99,"r":"22c","v":3.5},
          {"c":95,"r":"67b","v":0.3},{"c":96,"r":"67b","v":0.3},{"c":97,"r":"67b","v":0.3},{"c":98,"r":"67b","v":0.3},{"c":99,"r":"67b","v":0.7},
          {"c":95,"r":"33b/47a","v":0.3},{"c":96,"r":"33b/47a","v":0.5},{"c":97,"r":"33b/47a","v":1.8},{"c":98,"r":"33b/47a","v":3.8},{"c":99,"r":"33b/47a","v":4.0},
          {"c":95,"r":"13a","v":0.3},{"c":96,"r":"13a","v":0.3},{"c":97,"r":"13a","v":0.3},{"c":98,"r":"13a","v":0.5},{"c":99,"r":"13a","v":2.1},
          {"c":95,"r":"35a","v":0.3},{"c":96,"r":"35a","v":0.3},{"c":97,"r":"35a","v":0.3},{"c":98,"r":"35a","v":0.5},{"c":99,"r":"35a","v":2.4},
          {"c":95,"r":"85c","v":0.3},{"c":96,"r":"85c","v":0.3},{"c":97,"r":"85c","v":1.6},{"c":98,"r":"85c","v":3.3},{"c":99,"r":"85c","v":3.0},
          {"c":95,"r":"74a","v":0.6},{"c":96,"r":"74a","v":0.6},{"c":97,"r":"74a","v":0.4},{"c":98,"r":"74a","v":0.8},{"c":99,"r":"74a","v":1.5},
          {"c":95,"r":"45a","v":0.3},{"c":96,"r":"45a","v":0.3},{"c":97,"r":"45a","v":0.4},{"c":98,"r":"45a","v":0.7},{"c":99,"r":"45a","v":2.1},
          {"c":95,"r":"42a","v":0.3},{"c":96,"r":"42a","v":0.3},{"c":97,"r":"42a","v":0.3},{"c":98,"r":"42a","v":0.5},{"c":99,"r":"42a","v":2.1},
          {"c":95,"r":"42b","v":0.3},{"c":96,"r":"42b","v":0.3},{"c":97,"r":"42b","v":0.3},{"c":98,"r":"42b","v":0.3},{"c":99,"r":"42b","v":0.3},

          {"c":100,"r":"45b","v":0.3},{"c":101,"r":"45b","v":0.3},{"c":102,"r":"45b","v":0.3},{"c":103,"r":"45b","v":0.3},{"c":104,"r":"45b","v":0.3},
          {"c":100,"r":"24a","v":0.3},{"c":101,"r":"24a","v":0.3},{"c":102,"r":"24a","v":0.3},{"c":103,"r":"24a","v":0.3},{"c":104,"r":"24a","v":0.3},
          {"c":100,"r":"59a","v":0.3},{"c":101,"r":"59a","v":0.3},{"c":102,"r":"59a","v":0.3},{"c":103,"r":"59a","v":0.3},{"c":104,"r":"59a","v":0.4},
          {"c":100,"r":"83a","v":0.3},{"c":101,"r":"83a","v":0.3},{"c":102,"r":"83a","v":0.3},{"c":103,"r":"83a","v":0.3},{"c":104,"r":"83a","v":0.3},
          {"c":100,"r":"22c","v":0.3},{"c":101,"r":"22c","v":0.3},{"c":102,"r":"22c","v":0.3},{"c":103,"r":"22c","v":0.3},{"c":104,"r":"22c","v":0.4},
          {"c":100,"r":"94a/94b","v":0.3},{"c":101,"r":"94a/94b","v":0.3},{"c":102,"r":"94a/94b","v":0.3},{"c":103,"r":"94a/94b","v":0.3},{"c":104,"r":"94a/94b","v":0.4},
          {"c":100,"r":"1a","v":0.3},{"c":101,"r":"1a","v":0.3},{"c":102,"r":"1a","v":0.3},{"c":103,"r":"1a","v":0.5},{"c":104,"r":"1a","v":1.7},
          {"c":100,"r":"63a","v":0.3},{"c":101,"r":"63a","v":0.3},{"c":102,"r":"63a","v":0.3},{"c":103,"r":"63a","v":0.2},{"c":104,"r":"63a","v":0.5},
          {"c":100,"r":"82a","v":0.3},{"c":101,"r":"82a","v":0.3},{"c":102,"r":"82a","v":0.3},{"c":103,"r":"82a","v":0.3},{"c":104,"r":"82a","v":0.3},
          {"c":100,"r":"13a","v":0.3},{"c":101,"r":"13a","v":0.3},{"c":102,"r":"13a","v":0.3},{"c":103,"r":"13a","v":0.6},{"c":104,"r":"13a","v":3.5},
          {"c":100,"r":"35a","v":0.3},{"c":101,"r":"35a","v":0.3},{"c":102,"r":"35a","v":0.3},{"c":103,"r":"35a","v":0.3},{"c":104,"r":"35a","v":0.3},
          {"c":100,"r":"85c","v":0.3},{"c":101,"r":"85c","v":0.3},{"c":102,"r":"85c","v":0.3},{"c":103,"r":"85c","v":0.6},{"c":104,"r":"85c","v":3.4},
          {"c":100,"r":"45a","v":0.3},{"c":101,"r":"45a","v":0.3},{"c":102,"r":"45a","v":0.3},{"c":103,"r":"45a","v":0.3},{"c":104,"r":"45a","v":0.3},
          {"c":100,"r":"42a","v":0.3},{"c":101,"r":"42a","v":0.25},{"c":102,"r":"42a","v":0.25},{"c":103,"r":"42a","v":0.3},{"c":104,"r":"42a","v":0.6},
          {"c":100,"r":"42b","v":0.3},{"c":101,"r":"42b","v":0.3},{"c":102,"r":"42b","v":0.3},{"c":103,"r":"42b","v":0.5},{"c":104,"r":"42b","v":0.8},

          {"c":105,"r":"24a","v":0.3},{"c":106,"r":"24a","v":0.3},{"c":107,"r":"24a","v":0.3},{"c":108,"r":"24a","v":0.3},{"c":109,"r":"24a","v":0.3},
          {"c":109,"r":"83a","v":0.3},
          {"c":105,"r":"67b","v":0.3},{"c":106,"r":"67b","v":0.3},{"c":107,"r":"67b","v":0.3},{"c":108,"r":"67b","v":0.6},{"c":109,"r":"67b","v":4.0},
          {"c":105,"r":"33b/47a","v":0.3},{"c":106,"r":"33b/47a","v":0.3},{"c":108,"r":"33b/47a","v":0.3},{"c":109,"r":"33b/47a","v":0.6},
          {"c":105,"r":"13a","v":0.3},{"c":106,"r":"13a","v":0.3},{"c":107,"r":"13a","v":0.3},{"c":108,"r":"13a","v":0.6},{"c":109,"r":"13a","v":3.2},
          {"c":105,"r":"35a","v":0.3},{"c":106,"r":"35a","v":0.5},{"c":107,"r":"35a","v":2.5},{"c":108,"r":"35a","v":4.4},{"c":109,"r":"35a","v":4.4},
          {"c":105,"r":"85c","v":0.3},{"c":106,"r":"85c","v":0.3},{"c":107,"r":"85c","v":0.3},{"c":108,"r":"85c","v":0.3},{"c":109,"r":"85c","v":0.3},
          {"c":105,"r":"45a","v":0.2},{"c":109,"r":"45a","v":0.3},
          {"c":105,"r":"42b","v":0.3},{"c":107,"r":"42b","v":-0.05},{"c":108,"r":"42b","v":-0.05},{"c":109,"r":"42b","v":0.3},

          {"c":110,"r":"1a","v":0.3},{"c":111,"r":"1a","v":0.3},{"c":112,"r":"1a","v":0.3},{"c":113,"r":"1a","v":0.6},{"c":114,"r":"1a","v":2.0},
          {"c":110,"r":"67b","v":0.3},{"c":111,"r":"67b","v":0.3},{"c":112,"r":"67b","v":0.3},{"c":113,"r":"67b","v":0.3},{"c":114,"r":"67b","v":0.3},
          {"c":110,"r":"13a","v":0.3},{"c":111,"r":"13a","v":0.3},{"c":112,"r":"13a","v":0.6},{"c":113,"r":"13a","v":3.4},{"c":114,"r":"13a","v":4.0},
          {"c":110,"r":"35a","v":0.3},{"c":111,"r":"35a","v":0.3},{"c":112,"r":"35a","v":0.3},{"c":113,"r":"35a","v":1.2},{"c":114,"r":"35a","v":4.4},
          {"c":110,"r":"85c","v":0.3},{"c":111,"r":"85c","v":0.3},{"c":112,"r":"85c","v":1.5},{"c":113,"r":"85c","v":3.5},{"c":114,"r":"85c","v":3.5},
          {"c":110,"r":"45a","v":0.3},{"c":111,"r":"45a","v":0.3},{"c":112,"r":"45a","v":0.3},{"c":113,"r":"45a","v":0.5},{"c":114,"r":"45a","v":1.5},

          {"c":115,"r":"24a","v":0.3},{"c":116,"r":"24a","v":0.3},{"c":117,"r":"24a","v":0.3},{"c":118,"r":"24a","v":0.3},{"c":119,"r":"24a","v":0.3},
          {"c":115,"r":"83a","v":0.3},{"c":116,"r":"83a","v":0.3},{"c":117,"r":"83a","v":0.3},{"c":118,"r":"83a","v":0.3},{"c":119,"r":"83a","v":0.3},
          {"c":115,"r":"22c","v":0.3},{"c":116,"r":"22c","v":0.3},{"c":117,"r":"22c","v":0.3},{"c":118,"r":"22c","v":0.4},{"c":119,"r":"22c","v":3.2},
          {"c":115,"r":"94a/94b","v":0.3},{"c":116,"r":"94a/94b","v":0.3},{"c":117,"r":"94a/94b","v":0.3},{"c":118,"r":"94a/94b","v":0.3},{"c":119,"r":"94a/94b","v":0.3},
          {"c":115,"r":"67b","v":0.3},{"c":116,"r":"67b","v":0.3},{"c":117,"r":"67b","v":0.3},{"c":118,"r":"67b","v":0.3},{"c":119,"r":"67b","v":0.4},
          {"c":115,"r":"33b/47a","v":0.5},{"c":116,"r":"33b/47a","v":0.5},{"c":117,"r":"33b/47a","v":0.8},{"c":118,"r":"33b/47a","v":2.8},{"c":119,"r":"33b/47a","v":4.4},
          {"c":115,"r":"82a","v":0.3},{"c":116,"r":"82a","v":0.3},{"c":117,"r":"82a","v":0.3},{"c":118,"r":"82a","v":0.3},{"c":119,"r":"82a","v":0.3},
          {"c":115,"r":"13a","v":0.3},{"c":116,"r":"13a","v":0.3},{"c":117,"r":"13a","v":0.3},{"c":118,"r":"13a","v":0.5},{"c":119,"r":"13a","v":2.7},
          {"c":115,"r":"35a","v":0.3},{"c":116,"r":"35a","v":0.3},{"c":117,"r":"35a","v":0.3},{"c":118,"r":"35a","v":0.3},{"c":119,"r":"35a","v":0.6},
          {"c":115,"r":"85c","v":0.5},{"c":116,"r":"85c","v":0.7},{"c":117,"r":"85c","v":2.1},{"c":118,"r":"85c","v":3.9},{"c":119,"r":"85c","v":3.6},
          {"c":115,"r":"45a","v":0.4},{"c":116,"r":"45a","v":0.4},{"c":117,"r":"45a","v":0.4},{"c":118,"r":"45a","v":0.6},{"c":119,"r":"45a","v":1.6},
          {"c":115,"r":"42a","v":0.3},{"c":116,"r":"42a","v":0.3},{"c":117,"r":"42a","v":0.3},{"c":118,"r":"42a","v":0.4},{"c":119,"r":"42a","v":3.2},
          {"c":115,"r":"42b","v":0.3},{"c":116,"r":"42b","v":0.3},{"c":117,"r":"42b","v":0.3},{"c":118,"r":"42b","v":0.3},{"c":119,"r":"42b","v":0.4},

          {"c":120,"r":"24a","v":0.3},{"c":121,"r":"24a","v":0.3},{"c":122,"r":"24a","v":0.3},{"c":123,"r":"24a","v":0.3},{"c":124,"r":"24a","v":0.6},
          {"c":120,"r":"1a","v":0.3},{"c":121,"r":"1a","v":0.35},{"c":122,"r":"1a","v":0.4},{"c":123,"r":"1a","v":0.5},{"c":124,"r":"1a","v":1.3},
          {"c":120,"r":"67b","v":0.4},{"c":121,"r":"67b","v":0.4},{"c":122,"r":"67b","v":0.3},{"c":123,"r":"67b","v":0.3},{"c":124,"r":"67b","v":1.3},
          {"c":120,"r":"33b/47a","v":0.3},{"c":121,"r":"33b/47a","v":0.3},{"c":122,"r":"33b/47a","v":0.6},{"c":123,"r":"33b/47a","v":2.7},{"c":124,"r":"33b/47a","v":5.6},
          {"c":120,"r":"13a","v":0.3},{"c":121,"r":"13a","v":0.6},{"c":122,"r":"13a","v":2.1},{"c":123,"r":"13a","v":4.2},{"c":124,"r":"13a","v":4.2},
          {"c":120,"r":"35a","v":0.3},{"c":121,"r":"35a","v":0.3},{"c":122,"r":"35a","v":0.3},{"c":123,"r":"35a","v":0.3},{"c":124,"r":"35a","v":3.8},
          {"c":120,"r":"85c","v":0.6},{"c":121,"r":"85c","v":2.4},{"c":122,"r":"85c","v":3.1},{"c":123,"r":"85c","v":3.1},{"c":124,"r":"85c","v":3.1},
          {"c":120,"r":"45a","v":0.3},{"c":121,"r":"45a","v":0.3},{"c":122,"r":"45a","v":0.3},{"c":123,"r":"45a","v":0.9},{"c":124,"r":"45a","v":3.4},

          {"c":125,"r":"22c","v":0.3},{"c":126,"r":"22c","v":0.3},{"c":127,"r":"22c","v":0.5},{"c":128,"r":"22c","v":0.5},{"c":129,"r":"22c","v":0.7},
          {"c":125,"r":"1a","v":0.3},{"c":126,"r":"1a","v":0.3},{"c":127,"r":"1a","v":0.3},{"c":128,"r":"1a","v":0.4},{"c":129,"r":"1a","v":1.1},
          {"c":125,"r":"63a","v":0.3},{"c":126,"r":"63a","v":0.3},{"c":127,"r":"63a","v":0.3},{"c":128,"r":"63a","v":0.4},{"c":129,"r":"63a","v":0.6},
          {"c":125,"r":"67b","v":0.3},{"c":126,"r":"67b","v":0.3},{"c":127,"r":"67b","v":0.6},{"c":128,"r":"67b","v":2.5},{"c":129,"r":"67b","v":3.2},
          {"c":125,"r":"33b/47a","v":0.6},{"c":126,"r":"33b/47a","v":2.0},{"c":127,"r":"33b/47a","v":3.8},{"c":128,"r":"33b/47a","v":4.1},{"c":129,"r":"33b/47a","v":4.1},
          {"c":125,"r":"82a","v":0.3},{"c":126,"r":"82a","v":0.3},{"c":127,"r":"82a","v":0.3},{"c":128,"r":"82a","v":0.3},{"c":129,"r":"82a","v":0.3},
          {"c":125,"r":"13a","v":0.3},{"c":126,"r":"13a","v":0.3},{"c":127,"r":"13a","v":1.8},{"c":128,"r":"13a","v":3.5},{"c":129,"r":"13a","v":4.5},
          {"c":125,"r":"35a","v":0.3},{"c":126,"r":"35a","v":1.2},{"c":127,"r":"35a","v":3.1},{"c":128,"r":"35a","v":3.3},{"c":129,"r":"35a","v":3.0},
          {"c":125,"r":"85c","v":0.3},{"c":126,"r":"85c","v":0.3},{"c":127,"r":"85c","v":0.6},{"c":128,"r":"85c","v":1.2},{"c":129,"r":"85c","v":1.5},
          {"c":125,"r":"45a","v":0.3},{"c":126,"r":"45a","v":1.5},{"c":127,"r":"45a","v":3.1},{"c":128,"r":"45a","v":3.3},{"c":129,"r":"45a","v":3.5},
          {"c":125,"r":"42a","v":0.3},{"c":126,"r":"42a","v":0.3},{"c":127,"r":"42a","v":0.3},{"c":128,"r":"42a","v":0.4},{"c":129,"r":"42a","v":0.6},
          {"c":125,"r":"42b","v":0.3},{"c":126,"r":"42b","v":0.3},{"c":127,"r":"42b","v":0.3},{"c":128,"r":"42b","v":0.3},{"c":129,"r":"42b","v":0.3},

          {"c":130,"r":"67b","v":0.3},{"c":131,"r":"67b","v":0.3},{"c":132,"r":"67b","v":0.5},{"c":133,"r":"67b","v":1.3},{"c":134,"r":"67b","v":4.0},
          {"c":130,"r":"33b/47a","v":0.3},{"c":131,"r":"33b/47a","v":0.3},{"c":132,"r":"33b/47a","v":0.3},{"c":133,"r":"33b/47a","v":0.3},{"c":134,"r":"33b/47a","v":2.0},
          {"c":130,"r":"13a","v":0.3},{"c":131,"r":"13a","v":0.3},{"c":132,"r":"13a","v":0.5},{"c":133,"r":"13a","v":1.1},{"c":134,"r":"13a","v":4.3},
          {"c":130,"r":"35a","v":0.3},{"c":131,"r":"35a","v":0.3},{"c":132,"r":"35a","v":3.5},{"c":133,"r":"35a","v":4.9},{"c":134,"r":"35a","v":4.5},
          {"c":130,"r":"85c","v":0.3},{"c":131,"r":"85c","v":0.3},{"c":133,"r":"85c","v":0.2},{"c":134,"r":"85c","v":0.5},
          {"c":130,"r":"45a","v":0.3},{"c":131,"r":"45a","v":0.3},{"c":132,"r":"45a","v":0.4},{"c":133,"r":"45a","v":0.6},{"c":134,"r":"45a","v":2.2},
          {"c":130,"r":"42a","v":0.3},{"c":132,"r":"42a","v":0.3},{"c":133,"r":"42a","v":0.5},{"c":134,"r":"42a","v":1.2},

          {"c":135,"r":"22c","v":0.3},{"c":136,"r":"22c","v":0.3},{"c":137,"r":"22c","v":0.3},{"c":138,"r":"22c","v":0.3},{"c":139,"r":"22c","v":0.3},
          {"c":135,"r":"67b","v":0.3},{"c":136,"r":"67b","v":0.3},{"c":137,"r":"67b","v":0.3},{"c":138,"r":"67b","v":0.3},{"c":139,"r":"67b","v":0.3},
          {"c":135,"r":"13a","v":0.3},{"c":136,"r":"13a","v":0.3},{"c":137,"r":"13a","v":0.3},{"c":138,"r":"13a","v":0.4},{"c":139,"r":"13a","v":1.2},
          {"c":135,"r":"35a","v":0.3},{"c":136,"r":"35a","v":0.3},{"c":137,"r":"35a","v":1.2},{"c":138,"r":"35a","v":2.4},{"c":139,"r":"35a","v":2.4},
          {"c":135,"r":"85c","v":0.3},{"c":136,"r":"85c","v":0.3},{"c":137,"r":"85c","v":0.3},{"c":138,"r":"85c","v":0.3},{"c":139,"r":"85c","v":0.3},
          {"c":135,"r":"42a","v":0.3},{"c":136,"r":"42a","v":0.3},{"c":137,"r":"42a","v":0.3},{"c":138,"r":"42a","v":0.3},{"c":139,"r":"42a","v":0.3},
          {"c":135,"r":"42b","v":0.4},{"c":136,"r":"42b","v":0.4},{"c":137,"r":"42b","v":0.4},{"c":138,"r":"42b","v":0.4},{"c":139,"r":"42b","v":0.4},

          {"c":140,"r":"24a","v":0.3},{"c":141,"r":"24a","v":0.3},{"c":142,"r":"24a","v":0.3},{"c":143,"r":"24a","v":0.6},{"c":144,"r":"24a","v":1.6},
          {"c":140,"r":"94a/94b","v":0.3},{"c":141,"r":"94a/94b","v":0.3},{"c":142,"r":"94a/94b","v":0.3},{"c":143,"r":"94a/94b","v":0.3},{"c":144,"r":"94a/94b","v":0.3},
          {"c":140,"r":"33b/47a","v":0.2},{"c":141,"r":"33b/47a","v":-0.05},{"c":142,"r":"33b/47a","v":0.3},{"c":143,"r":"33b/47a","v":1.7},{"c":144,"r":"33b/47a","v":1.7},
          {"c":140,"r":"82a","v":0.3},{"c":141,"r":"82a","v":0.7},{"c":142,"r":"82a","v":2.5},{"c":143,"r":"82a","v":2.5},{"c":144,"r":"82a","v":2.2},
          {"c":140,"r":"45a","v":0.3},{"c":141,"r":"45a","v":0.3},{"c":142,"r":"45a","v":0.8},{"c":143,"r":"45a","v":4.2},{"c":144,"r":"45a","v":3.7},
          {"c":140,"r":"42b","v":0.3},{"c":141,"r":"42b","v":0.3},{"c":142,"r":"42b","v":0.3},{"c":143,"r":"42b","v":0.4},{"c":144,"r":"42b","v":0.8},

          {"c":145,"r":"74a","v":0.3},{"c":146,"r":"74a","v":0.3},{"c":147,"r":"74a","v":0.3},{"c":148,"r":"74a","v":0.35},{"c":149,"r":"74a","v":0.5},
          {"c":145,"r":"45a","v":0.3},{"c":146,"r":"45a","v":0.3},{"c":147,"r":"45a","v":0.3},{"c":148,"r":"45a","v":0.25},{"c":149,"r":"45a","v":0.6},
          {"c":145,"r":"42b","v":0.3},{"c":146,"r":"42b","v":0.5},{"c":147,"r":"42b","v":0.6},{"c":148,"r":"42b","v":2.5},{"c":149,"r":"42b","v":6.0},

          {"c":150,"r":"24a","v":0.3},{"c":151,"r":"24a","v":0.3},{"c":152,"r":"24a","v":0.3},{"c":153,"r":"24a","v":0.3},{"c":154,"r":"24a","v":0.4},
          {"c":151,"r":"83a","v":0.3},{"c":152,"r":"83a","v":0.3},{"c":153,"r":"83a","v":0.3},{"c":154,"r":"83a","v":0.4},
          {"c":150,"r":"22c","v":0.3},{"c":151,"r":"22c","v":0.3},{"c":152,"r":"22c","v":0.4},{"c":153,"r":"22c","v":0.4},{"c":154,"r":"22c","v":0.4},
          {"c":150,"r":"1a","v":0.3},{"c":151,"r":"1a","v":0.3},{"c":152,"r":"1a","v":0.3},{"c":153,"r":"1a","v":0.3},{"c":154,"r":"1a","v":0.4},
          {"c":150,"r":"67b","v":0.4},{"c":151,"r":"67b","v":0.4},{"c":152,"r":"67b","v":0.5},{"c":153,"r":"67b","v":1.0},{"c":154,"r":"67b","v":1.8},
          {"c":150,"r":"33b/47a","v":0.4},{"c":151,"r":"33b/47a","v":0.5},{"c":152,"r":"33b/47a","v":1.3},{"c":153,"r":"33b/47a","v":3.2},{"c":154,"r":"33b/47a","v":3.8},
          {"c":151,"r":"82a","v":0.3},{"c":152,"r":"82a","v":0.3},{"c":153,"r":"82a","v":0.3},{"c":154,"r":"82a","v":0.5},
          {"c":150,"r":"13a","v":0.4},{"c":151,"r":"13a","v":0.4},{"c":152,"r":"13a","v":0.7},{"c":153,"r":"13a","v":3.2},{"c":154,"r":"13a","v":3.9},
          {"c":150,"r":"35a","v":0.7},{"c":151,"r":"35a","v":0.7},{"c":152,"r":"35a","v":1.6},{"c":153,"r":"35a","v":2.6},{"c":154,"r":"35a","v":2.8},
          {"c":150,"r":"85c","v":3.7},{"c":151,"r":"85c","v":3.7},{"c":152,"r":"85c","v":3.7},{"c":153,"r":"85c","v":3.7},{"c":154,"r":"85c","v":3.7},
          {"c":150,"r":"74a","v":0.3},{"c":151,"r":"74a","v":0.4},{"c":152,"r":"74a","v":0.4},{"c":153,"r":"74a","v":0.4},{"c":154,"r":"74a","v":0.6},
          {"c":150,"r":"45a","v":0.4},{"c":151,"r":"45a","v":0.4},{"c":152,"r":"45a","v":0.5},{"c":153,"r":"45a","v":1.0},{"c":154,"r":"45a","v":2.2},
          {"c":150,"r":"42a","v":0.4},{"c":151,"r":"42a","v":0.4},{"c":152,"r":"42a","v":0.5},{"c":153,"r":"42a","v":2.6},{"c":154,"r":"42a","v":3.2},

          {"c":155,"r":"83a","v":0.3},{"c":156,"r":"83a","v":0.3},{"c":157,"r":"83a","v":0.3},{"c":158,"r":"83a","v":0.3},{"c":159,"r":"83a","v":0.3},
          {"c":155,"r":"33b/47a","v":0.3},{"c":156,"r":"33b/47a","v":0.3},{"c":157,"r":"33b/47a","v":0.3},{"c":158,"r":"33b/47a","v":0.3},{"c":159,"r":"33b/47a","v":0.4},
          {"c":155,"r":"35a","v":0.3},{"c":156,"r":"35a","v":0.3},{"c":157,"r":"35a","v":0.3},{"c":158,"r":"35a","v":0.3},{"c":159,"r":"35a","v":0.4},
          {"c":155,"r":"85c","v":0.3},{"c":156,"r":"85c","v":0.3},{"c":157,"r":"85c","v":0.3},{"c":158,"r":"85c","v":0.3},{"c":159,"r":"85c","v":0.35},
          {"c":155,"r":"42a","v":0.3},{"c":156,"r":"42a","v":0.3},{"c":157,"r":"42a","v":0.4},{"c":158,"r":"42a","v":1.7},{"c":159,"r":"42a","v":4.1},
          {"c":155,"r":"42b","v":0.6},{"c":156,"r":"42b","v":1.0},{"c":157,"r":"42b","v":3.1},{"c":158,"r":"42b","v":4.1},{"c":159,"r":"42b","v":3.8},

          {"c":160,"r":"24a","v":0.3},{"c":162,"r":"24a","v":0.3},{"c":163,"r":"24a","v":0.3},{"c":164,"r":"24a","v":0.3},
          {"c":160,"r":"33b/47a","v":0.3},{"c":162,"r":"33b/47a","v":0.3},{"c":163,"r":"33b/47a","v":0.4},{"c":164,"r":"33b/47a","v":0.3},
          {"c":160,"r":"13a","v":0.3},{"c":161,"r":"13a","v":0.3},{"c":162,"r":"13a","v":0.3},{"c":163,"r":"13a","v":0.4},{"c":164,"r":"13a","v":1.8},
          {"c":160,"r":"35a","v":0.3},{"c":162,"r":"35a","v":0.4},{"c":163,"r":"35a","v":1.3},{"c":164,"r":"35a","v":3.8},
          {"c":160,"r":"85c","v":0.3},{"c":162,"r":"85c","v":0.3},{"c":163,"r":"85c","v":0.4},{"c":164,"r":"85c","v":0.6},
          {"c":160,"r":"74a","v":0.4},{"c":161,"r":"74a","v":0.4},{"c":162,"r":"74a","v":4.0},{"c":163,"r":"74a","v":4.0},{"c":164,"r":"74a","v":4.0},
          {"c":160,"r":"45a","v":0.4},{"c":161,"r":"45a","v":0.4},{"c":162,"r":"45a","v":1.0},{"c":163,"r":"45a","v":2.2},{"c":164,"r":"45a","v":2.5},

          {"c":169,"r":"24a","v":0.3},
          {"c":165,"r":"33b/47a","v":0.3},{"c":166,"r":"33b/47a","v":0.3},{"c":167,"r":"33b/47a","v":0.3},{"c":168,"r":"33b/47a","v":1.7},{"c":169,"r":"33b/47a","v":5.3},
          {"c":165,"r":"35a","v":0.3},{"c":166,"r":"35a","v":0.3},{"c":167,"r":"35a","v":0.3},{"c":168,"r":"35a","v":0.6},{"c":169,"r":"35a","v":4.5},
          {"c":165,"r":"85c","v":0.3},{"c":166,"r":"85c","v":-0.1},{"c":167,"r":"85c","v":0.3},{"c":168,"r":"85c","v":2.3},{"c":169,"r":"85c","v":5.3},
          {"c":165,"r":"74a","v":0.3},{"c":166,"r":"74a","v":0.3},{"c":168,"r":"74a","v":0.3},{"c":169,"r":"74a","v":0.7},
          {"c":165,"r":"45a","v":0.3},{"c":166,"r":"45a","v":0.3},{"c":167,"r":"45a","v":0.4},{"c":168,"r":"45a","v":0.7},{"c":169,"r":"45a","v":4.0},
          {"c":165,"r":"42a","v":0.3},{"c":166,"r":"42a","v":0.9},{"c":167,"r":"42a","v":2.5},{"c":168,"r":"42a","v":2.9},{"c":169,"r":"42a","v":2.9},
          {"c":165,"r":"42b","v":0.3},{"c":166,"r":"42b","v":0.3},{"c":167,"r":"42b","v":1.2},{"c":168,"r":"42b","v":3.0},{"c":169,"r":"42b","v":4.5}
        ]
      },
      "mark": {"type": "rect", "strokeWidth": 0},
      "encoding": {
        "x": {
          "field": "c",
          "type": "quantitative",
          "bin": {"binned": true, "step": 1},
          "scale": {"domain": [0, 170], "nice": false, "zero": false},
          "title": "stimulus (odor, dilution)",
          "axis": {
            "labels": false,
            "ticks": false,
            "domain": false,
            "grid": false,
            "titleFontSize": 38,
            "titleFontWeight": "normal",
            "titleColor": "#000000",
            "titlePadding": 22
          }
        },
        "y": {
          "field": "r",
          "type": "nominal",
          "scale": {
            "domain": ["45b", "24a", "59a", "30a", "83a", "22c", "94a/94b", "1a", "63a", "67b", "49a", "33a", "33b/47a", "82a", "13a", "35a", "85c", "74a", "45a", "42a", "42b"],
            "paddingInner": 0,
            "paddingOuter": 0
          },
          "title": "ORN",
          "axis": {
            "ticks": false,
            "domain": false,
            "grid": false,
            "labelFontSize": 30,
            "labelColor": "#000000",
            "labelPadding": 8,
            "titleFontSize": 40,
            "titleFontWeight": "normal",
            "titleColor": "#000000",
            "titlePadding": 24
          }
        },
        "color": {
          "field": "v",
          "type": "quantitative",
          "scale": {
            "domain": [-1, -0.75, -0.5, -0.25, 0, 0.01, 0.75, 1.5, 2.25, 3, 3.75, 4.5, 5.25, 6],
            "range": ["#74a9cf", "#a6bddb", "#d0d1e6", "#ece7f2", "#fff7fb", "#fff5eb", "#fee6ce", "#fdd0a2", "#fdae6b", "#fd8d3c", "#f16913", "#d94801", "#a63603", "#7f2704"],
            "clamp": true
          },
          "legend": {
            "title": "ΔF / F₀",
            "orient": "none",
            "legendX": 2400,
            "legendY": -42,
            "direction": "vertical",
            "gradientLength": 564,
            "gradientThickness": 40,
            "gradientStrokeWidth": 0,
            "values": [-1, 0, 2, 4, 6],
            "format": "d",
            "labelFontSize": 30,
            "labelColor": "#000000",
            "labelOffset": 8,
            "titleFontSize": 36,
            "titleFontWeight": "normal",
            "titleColor": "#000000",
            "titlePadding": 33,
            "titleAnchor": "end",
            "titleAlign": "right"
          }
        }
      }
    },
    {
      "data": {
        "values": [
          {"c": 5}, {"c": 10}, {"c": 15}, {"c": 20}, {"c": 25}, {"c": 30}, {"c": 35}, {"c": 40}, {"c": 45}, {"c": 50}, {"c": 55},
          {"c": 60}, {"c": 65}, {"c": 70}, {"c": 75}, {"c": 80}, {"c": 85}, {"c": 90}, {"c": 95}, {"c": 100}, {"c": 105}, {"c": 110},
          {"c": 115}, {"c": 120}, {"c": 125}, {"c": 130}, {"c": 135}, {"c": 140}, {"c": 145}, {"c": 150}, {"c": 155}, {"c": 160}, {"c": 165}
        ]
      },
      "mark": {"type": "rule", "color": "#8a8a8a", "strokeWidth": 2.5},
      "encoding": {
        "x": {"field": "c", "type": "quantitative", "title": "stimulus (odor, dilution)"}
      }
    }
  ]
}
